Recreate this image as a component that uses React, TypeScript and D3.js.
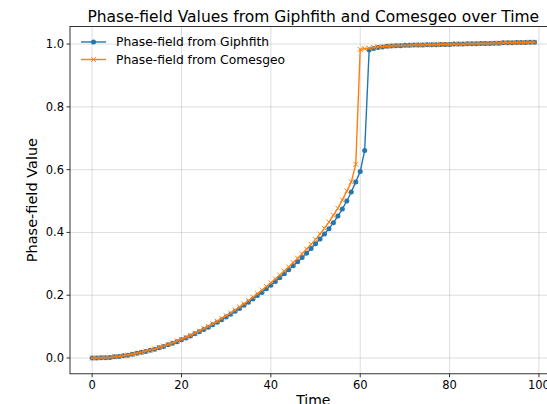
import * as d3 from 'd3';

// Time steps 0..99
const time: number[] = Array.from({ length: 100 }, (_, i) => i);

// Phase-field values
const giphfith: number[] = [
  0.0, 0.0, 0.001, 0.001, 0.002, 0.004, 0.005, 0.007, 0.009, 0.012,
  0.015, 0.018, 0.021, 0.025, 0.028, 0.033, 0.037, 0.042, 0.047, 0.052,
  0.058, 0.064, 0.07, 0.077, 0.084, 0.091, 0.098, 0.106, 0.114, 0.122,
  0.131, 0.139, 0.149, 0.158, 0.168, 0.178, 0.188, 0.199, 0.209, 0.221,
  0.232, 0.244, 0.256, 0.268, 0.281, 0.294, 0.307, 0.32, 0.334, 0.349,
  0.364, 0.379, 0.395, 0.412, 0.431, 0.452, 0.475, 0.5, 0.529, 0.561,
  0.594, 0.661, 0.981, 0.986, 0.989, 0.991, 0.993, 0.994, 0.995, 0.995,
  0.996, 0.996, 0.997, 0.997, 0.997, 0.998, 0.998, 0.998, 0.999, 0.999,
  0.999, 1.0, 1.0, 1.0, 1.001, 1.001, 1.001, 1.002, 1.002, 1.002,
  1.003, 1.003, 1.004, 1.004, 1.004, 1.005, 1.005, 1.005, 1.006, 1.006,
];

const comesgeo: number[] = [
  0.0, 0.0, 0.001, 0.001, 0.002, 0.004, 0.005, 0.007, 0.01, 0.012,
  0.015, 0.018, 0.022, 0.025, 0.029, 0.034, 0.038, 0.043, 0.048, 0.054,
  0.06, 0.066, 0.072, 0.079, 0.086, 0.094, 0.101, 0.109, 0.117, 0.126,
  0.135, 0.144, 0.153, 0.163, 0.173, 0.183, 0.194, 0.205, 0.216, 0.228,
  0.239, 0.252, 0.264, 0.277, 0.29, 0.304, 0.318, 0.332, 0.347, 0.362,
  0.378, 0.395, 0.413, 0.433, 0.455, 0.477, 0.503, 0.532, 0.561, 0.617,
  0.983, 0.985, 0.987, 0.989, 0.991, 0.992, 0.993, 0.994, 0.995, 0.995,
  0.996, 0.996, 0.997, 0.997, 0.997, 0.998, 0.998, 0.998, 0.999, 0.999,
  0.999, 1.0, 1.0, 1.0, 1.001, 1.001, 1.001, 1.002, 1.002, 1.002,
  1.003, 1.003, 1.004, 1.004, 1.004, 1.005, 1.005, 1.005, 1.006, 1.006,
];

const xTicks: number[] = [0, 20, 40, 60, 80, 100];
const yTicks: number[] = [0.0, 0.2, 0.4, 0.6, 0.8, 1.0];

const W = 547;
const H = 404;
const FONT = 'DejaVu Sans, sans-serif';

const App = () => {
  // axes box (matplotlib-like, right side runs off the canvas)
  const left = 70;
  const top = 26.4;
  const right = 556.6;
  const bottom = 373.8;

  // 5% margins like matplotlib autoscale
  const xMin = d3.min(time)!;
  const xMax = d3.max(time)!;
  const xPad = (xMax - xMin) * 0.05;
  const allY = giphfith.concat(comesgeo);
  const yMin = d3.min(allY)!;
  const yMax = d3.max(allY)!;
  const yPad = (yMax - yMin) * 0.05;

  const x = d3.scaleLinear().domain([xMin - xPad, xMax + xPad]).range([left, right]);
  const y = d3.scaleLinear().domain([yMin - yPad, yMax + yPad]).range([bottom, top]);

  const line = d3
    .line<number>()
    .x((_, i) => x(time[i]))
    .y((d) => y(d));

  const blue = '#1f77b4';
  const orange = '#ff7f0e';
  const grid = '#b0b0b0';

  const cross = (cx: number, cy: number, s: number) =>
    `M${cx - s},${cy - s}L${cx + s},${cy + s}M${cx - s},${cy + s}L${cx + s},${cy - s}`;

  return (
    <svg
      width={W}
      height={H}
      style={{ position: 'fixed', left: 0, top: 0, background: '#fff' }}
      fontFamily={FONT}
    >
      <rect width={W} height={H} fill="#fff" />

      {/* grid */}
      <g stroke={grid} strokeOpacity={0.55} strokeWidth={0.8}>
        {xTicks.map((t) => (
          <line key={'gx' + t} x1={x(t)} x2={x(t)} y1={top} y2={bottom} />
        ))}
        {yTicks.map((t) => (
          <line key={'gy' + t} x1={left} x2={right} y1={y(t)} y2={y(t)} />
        ))}
      </g>

      {/* Giphfith series */}
      <path d={line(giphfith) ?? ''} fill="none" stroke={blue} strokeWidth={1.4} />
      <g fill={blue}>
        {giphfith.map((v, i) => (
          <circle key={'b' + i} cx={x(time[i])} cy={y(v)} r={2.5} />
        ))}
      </g>

      {/* Comesgeo series */}
      <path d={line(comesgeo) ?? ''} fill="none" stroke={orange} strokeWidth={1.4} />
      <g stroke={orange} strokeWidth={1}>
        {comesgeo.map((v, i) => (
          <path key={'o' + i} d={cross(x(time[i]), y(v), 2.4)} />
        ))}
      </g>

      {/* spines */}
      <rect
        x={left}
        y={top}
        width={right - left}
        height={bottom - top}
        fill="none"
        stroke="#000"
        strokeWidth={0.8}
      />

      {/* x ticks */}
      <g fontSize={11.5} fill="#000">
        {xTicks.map((t) => (
          <g key={'xt' + t}>
            <line x1={x(t)} x2={x(t)} y1={bottom} y2={bottom + 3.5} stroke="#000" strokeWidth={0.8} />
            <text x={x(t)} y={bottom + 15.5} textAnchor="middle">
              {t}
            </text>
          </g>
        ))}
      </g>

      {/* y ticks */}
      <g fontSize={11.5} fill="#000">
        {yTicks.map((t) => (
          <g key={'yt' + t}>
            <line x1={left - 3.5} x2={left} y1={y(t)} y2={y(t)} stroke="#000" strokeWidth={0.8} />
            <text x={left - 6} y={y(t)} dy="0.35em" textAnchor="end">
              {t.toFixed(1)}
            </text>
          </g>
        ))}
      </g>

      {/* axis labels */}
      <text x={(left + right) / 2} y={405} textAnchor="middle" fontSize={14}>
        Time
      </text>
      <text
        transform={`translate(${36.5},${(top + bottom) / 2}) rotate(-90)`}
        textAnchor="middle"
        fontSize={14.5}
      >
        Phase-field Value
      </text>

      {/* title */}
      <text x={(left + right) / 2} y={21.5} textAnchor="middle" fontSize={15.5}>
        Phase-field Values from Giphfith and Comesgeo over Time
      </text>

      {/* legend */}
      <g fontSize={12.3}>
        <line x1={81} x2={106} y1={42} y2={42} stroke={blue} strokeWidth={1.4} />
        <circle cx={93.5} cy={42} r={2.5} fill={blue} />
        <text x={116} y={42} dy="0.35em">
          Phase-field from Giphfith
        </text>
        <line x1={81} x2={106} y1={59.5} y2={59.5} stroke={orange} strokeWidth={1.4} />
        <path d={cross(93.5, 59.5, 2.4)} stroke={orange} strokeWidth={1} />
        <text x={116} y={59.5} dy="0.35em">
          Phase-field from Comesgeo
        </text>
      </g>
    </svg>
  );
};

export default App;
